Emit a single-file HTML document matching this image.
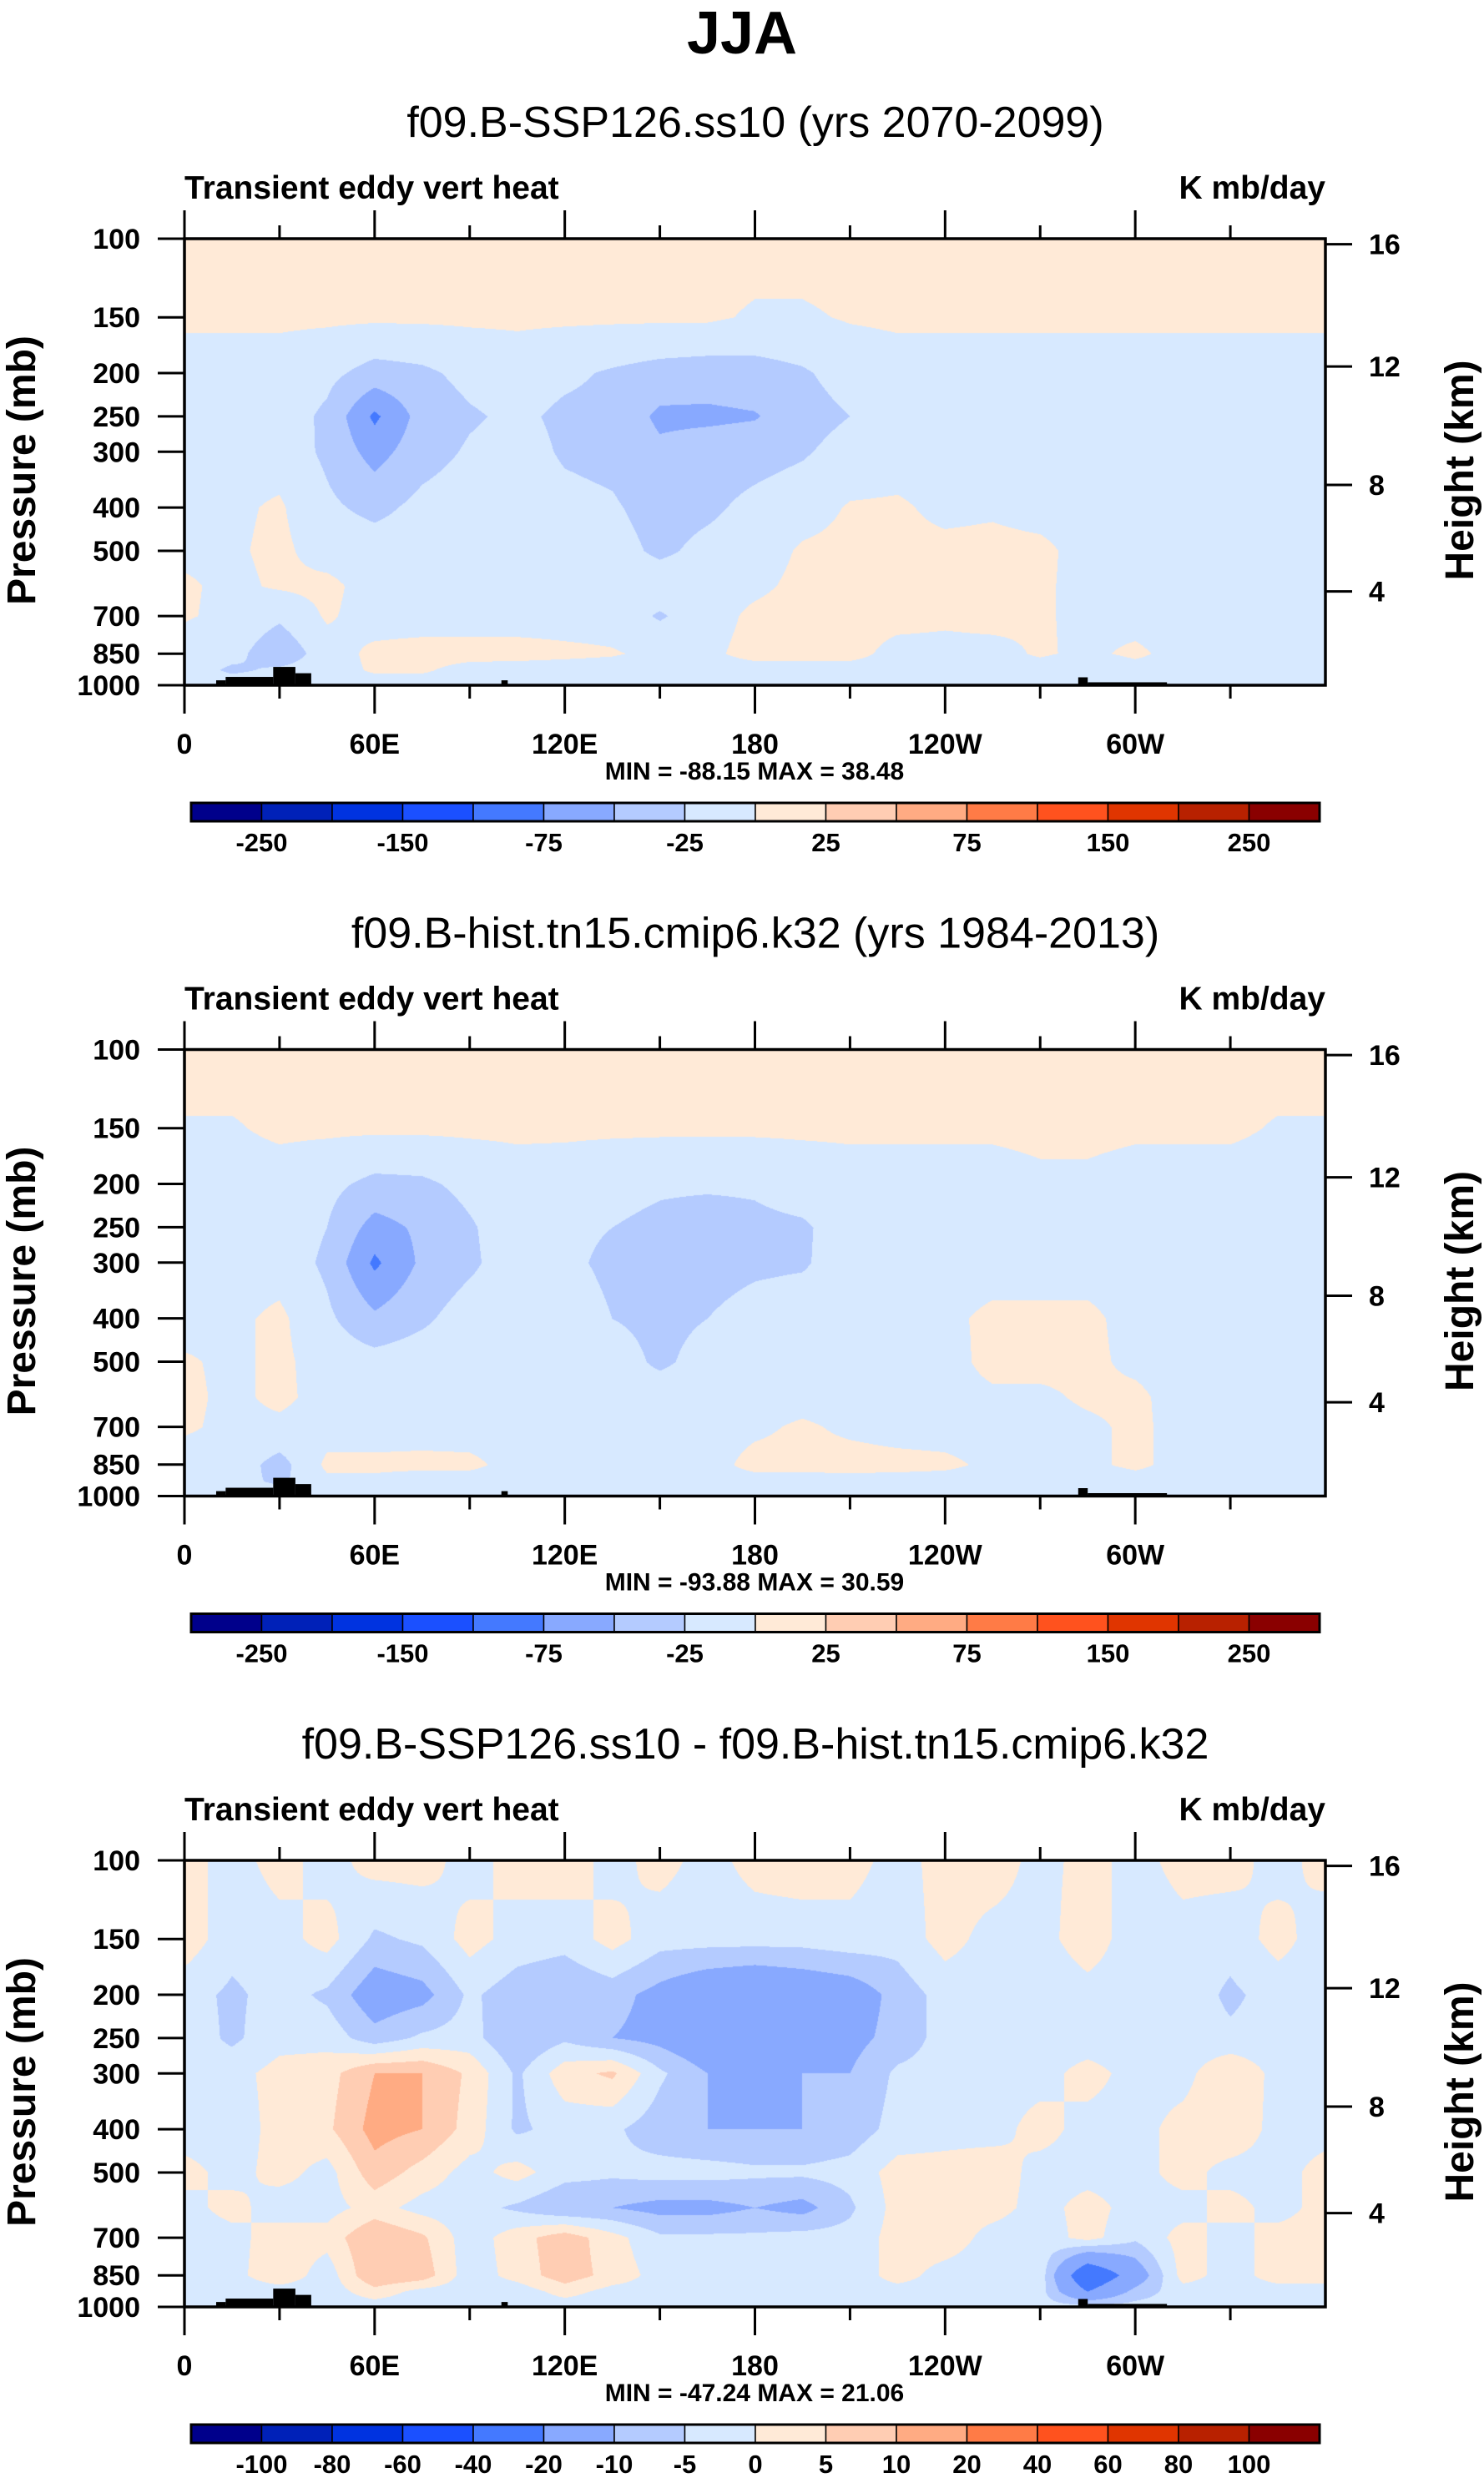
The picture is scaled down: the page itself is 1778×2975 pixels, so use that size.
<!DOCTYPE html>
<html><head><meta charset="utf-8">
<style>
html,body{margin:0;padding:0;background:#fff;}
#wrap{position:relative;width:1778px;height:2975px;overflow:hidden;}
canvas{position:absolute;}
svg{position:absolute;left:0;top:0;}
text{font-family:"Liberation Sans",sans-serif;}
</style></head>
<body>
<div id="wrap">
<canvas id="c0"></canvas>
<canvas id="c1"></canvas>
<canvas id="c2"></canvas>
<svg id="svg" width="1778" height="2975" xmlns="http://www.w3.org/2000/svg"></svg>
</div>
<script>
const lons = [0,15,30,45,60,75,90,105,120,135,150,165,180,195,210,225,240,255,270,285,300,315,330,345,360];
const levels = [100,150,200,250,300,400,500,600,700,850,925,1000];
const pTicks = [100,150,200,250,300,400,500,700,850,1000];
const zTicks = [4,8,12,16];
const lonTickVals = [0,60,120,180,240,300];
const lonTickLabels = ['0','60E','120E','180','120W','60W'];
const titles = ['f09.B-SSP126.ss10 (yrs 2070-2099)','f09.B-hist.tn15.cmip6.k32 (yrs 1984-2013)','f09.B-SSP126.ss10 - f09.B-hist.tn15.cmip6.k32'];
const minMax = ['MIN = -88.15  MAX =  38.48','MIN = -93.88  MAX =  30.59','MIN = -47.24  MAX =  21.06'];
const bounds12 = [-250,-200,-150,-100,-75,-50,-25,0,25,50,75,100,150,200,250];
const labels12 = ['-250','-150','-75','-25','25','75','150','250'];
const bounds3 = [-100,-80,-60,-40,-20,-10,-5,0,5,10,20,40,60,80,100];
const labels3 = ['-100','-80','-60','-40','-20','-10','-5','0','5','10','20','40','60','80','100'];
const colors = ['#00008b','#0021b8','#0033e0','#1b50ff','#4479ff','#88a9ff','#b4cbff','#d7e9ff','#ffead7','#ffcdb3','#ffab83','#ff7b46','#ff521e','#e03500','#b82100','#8a0000'];
const terrainLonStart = [10,13,28,35,100,282,285];
const terrainLonEnd = [13,28,35,40,102,285,310];
const terrainP = [975,958,910,940,975,960,985];

const field1 = [
[10,10,10,10,10,10,10,10,10,10,10,10,10,10,10,10,10,10,10,10,10,10,10,10,10],
[4,4,4,4,4,4,4,4,4,4,4,4,-3,-3,2,4,4,4,4,4,4,4,4,4,4],
[-10,-10,-10,-18,-35,-30,-18,-12,-20,-28,-35,-38,-35,-28,-15,-10,-10,-10,-10,-10,-10,-10,-10,-10,-10],
[-10,-10,-12,-30,-80,-40,-28,-20,-30,-32,-55,-55,-52,-35,-25,-12,-10,-10,-10,-10,-10,-10,-10,-10,-10],
[-10,-8,-10,-30,-60,-35,-22,-15,-28,-32,-45,-38,-35,-28,-15,-10,-10,-10,-10,-10,-10,-10,-10,-10,-10],
[-8,-4,3,-20,-32,-18,-12,-12,-18,-22,-35,-30,-18,-10,2,3,-5,-3,-8,-10,-10,-10,-10,-10,-10],
[-5,-3,5,-10,-12,-12,-10,-10,-10,-15,-30,-18,-12,3,6,5,5,6,5,-8,-10,-10,-10,-10,-10],
[3,-5,3,6,-10,-10,-10,-10,-10,-10,-10,-10,-5,6,8,8,6,8,4,-8,-10,-10,-10,-10,-10],
[2,-5,-20,3,-10,-10,-10,-10,-10,-10,-28,-10,5,10,8,8,5,8,3,-6,-10,-10,-10,-10,-10],
[-10,-15,-45,-10,5,8,8,8,5,2,-5,-5,8,8,8,-8,-8,-8,3,-5,5,-10,-10,-10,-10],
[-10,-30,-20,-10,3,3,-8,-10,-10,-10,-10,-10,-10,-10,-10,-10,-10,-10,-10,-20,-10,-10,-10,-10,-10],
[-10,-10,-10,-10,-10,-10,-10,-10,-10,-10,-10,-10,-10,-10,-10,-10,-10,-10,-10,-10,-10,-10,-10,-10,-10]];

const field2 = [
[10,10,10,10,10,10,10,10,10,10,10,10,10,10,10,10,10,10,10,10,10,10,10,10,10],
[-2,-2,4,4,4,4,4,4,4,4,4,4,4,4,4,4,4,4,6,6,4,4,4,-2,-2],
[-10,-10,-10,-18,-32,-30,-18,-10,-12,-18,-22,-22,-22,-15,-10,-10,-10,-10,-5,-5,-10,-10,-10,-10,-10],
[-10,-10,-10,-25,-60,-45,-28,-10,-20,-25,-30,-35,-30,-28,-15,-10,-10,-10,-10,-10,-10,-10,-10,-10,-10],
[-10,-10,-10,-30,-80,-45,-30,-10,-20,-30,-50,-35,-30,-28,-12,-10,-10,-10,-10,-10,-10,-10,-10,-10,-10],
[-10,-5,5,-20,-45,-30,-12,-10,-12,-25,-32,-25,-15,-10,-8,-8,-5,5,5,5,-8,-10,-10,-10,-10],
[3,-5,5,-10,-15,-10,-10,-10,-10,-12,-30,-15,-10,-10,-10,-10,-10,8,8,5,-5,-10,-10,-10,-10],
[5,-5,5,-8,-10,-10,-10,-10,-10,-10,-10,-10,-10,-10,-10,-10,-10,-5,-5,4,5,-10,-10,-10,-10],
[3,-5,-5,-10,-10,-8,-10,-10,-10,-10,-10,-10,-5,4,-5,-10,-10,-10,-10,-5,5,-8,-10,-10,-10],
[-10,-10,-35,5,5,5,5,-8,-8,-10,-10,-10,8,8,10,8,5,-5,-10,-5,5,-8,-10,-10,-10],
[-10,-15,-30,-5,-5,-10,-10,-10,-10,-10,-10,-10,-10,-10,-10,-10,-10,-10,-10,-15,-10,-10,-10,-10,-10],
[-10,-10,-10,-10,-10,-10,-10,-10,-10,-10,-10,-10,-10,-10,-10,-10,-10,-10,-10,-10,-10,-10,-10,-10,-10]];

const field3 = [
[2,-2,2,-2,2,2,-2,2,3,-2,2,-2,2,3,2,-2,2,3,-2,2,-2,2,2,-2,2],
[3,-3,-2,2,-6,-4,2,-2,-3,2,-3,-3,-3,-3,-2,-3,2,-2,-2,3,-3,-2,-3,2,-3],
[-3,-6,-3,-6,-14,-12,-4,-8,-10,-8,-12,-16,-18,-16,-14,-8,-3,-3,-4,-2,-3,-2,-6,-3,-3],
[-2,-6,-2,-2,-8,-4,-3,-10,-6,-10,-12,-16,-20,-14,-12,-8,-3,-3,-3,-3,-3,-3,-4,-3,-2],
[-3,-2,2,3,10,10,4,-6,3,6,-4,-10,-12,-10,-10,-4,-3,-2,-2,2,-2,-2,5,-2,-3],
[-3,-3,2,4,12,10,3,-6,-3,-4,-8,-10,-10,-10,-8,-3,-2,-2,2,-2,-2,2,4,-2,-2],
[2,-2,2,-2,8,3,-2,2,-3,-4,-3,-3,-4,-4,-3,2,2,3,-2,-2,-2,2,-2,-2,2],
[-2,2,-3,-2,2,-2,-3,-6,-10,-10,-12,-12,-10,-12,-6,2,2,2,-2,2,-2,-2,2,-2,2],
[-3,-2,3,2,10,6,-3,3,8,2,-4,-4,-4,-3,-3,2,3,-2,-3,2,-4,2,-2,2,2],
[-3,-2,4,-3,10,8,-3,2,8,3,-2,-2,-2,-2,-3,2,-2,-3,-2,-30,-15,2,-2,2,2],
[-3,-3,-3,-3,3,-2,-3,-3,2,-2,-2,-2,-2,-2,-2,-2,-2,-3,-3,-20,-8,-2,-2,-2,-2],
[-3,-3,-3,-3,-3,-3,-3,-3,-3,-3,-3,-3,-3,-3,-3,-3,-3,-3,-3,-3,-3,-3,-3,-3,-3]];

const fields = [field1, field2, field3];
const panelBounds = [bounds12, bounds12, bounds3];
const panelLabels = [labels12, labels12, labels3];

const X0 = 221, X1 = 1588, PH = 535, PANEL_DY = 971.5, TOP0 = 286;
const W = X1 - X0;
const NS = 'http://www.w3.org/2000/svg';
const svg = document.getElementById('svg');
function xOf(lon){ return X0 + lon / 360 * W; }
function yOf(top, p){ return top + PH * Math.log(p / 100) / Math.log(10); }
function zToP(z){ const m = z * 1000; return m <= 11000 ? 1013.25 * Math.pow(1 - 2.2558e-5 * m, 5.2559) : 226.32 * Math.exp(-(m - 11000) / 6341.6); }
function el(tag, attrs, parent){ const e = document.createElementNS(NS, tag); for (const k in attrs) e.setAttribute(k, attrs[k]); (parent || svg).appendChild(e); return e; }
function txt(s, attrs, parent){ const e = el('text', attrs, parent); e.textContent = s; return e; }
function hexRgb(h){ return [parseInt(h.substr(1,2),16), parseInt(h.substr(3,2),16), parseInt(h.substr(5,2),16)]; }
const rgb = colors.map(hexRgb);

const title = txt('JJA', {x: 889, y: 64, 'font-size': 72, 'font-weight': 'bold', 'text-anchor': 'middle'});



const lnLev = levels.map(p => Math.log(p));
function sample(field, lon, p){
  let i = Math.min(Math.floor(lon / 15), lons.length - 2);
  const fx = (lon - lons[i]) / 15;
  const lp = Math.log(p);
  let j = 0;
  while (j < levels.length - 2 && lp > lnLev[j + 1]) j++;
  let fy = (lp - lnLev[j]) / (lnLev[j + 1] - lnLev[j]);
  fy = Math.max(0, Math.min(1, fy));
  const a = field[j][i], b = field[j][i + 1], c = field[j + 1][i], d = field[j + 1][i + 1];
  return (a * (1 - fx) + b * fx) * (1 - fy) + (c * (1 - fx) + d * fx) * fy;
}

for (let k = 0; k < 3; k++){
  const top = TOP0 + k * PANEL_DY;
  const g = el('g', {});
  
  
  const cv = document.getElementById('c' + k);
  cv.width = W; cv.height = PH;
  cv.style.left = X0 + 'px'; cv.style.top = top + 'px';
  const ctx = cv.getContext('2d');
  const img = ctx.createImageData(W, PH);
  const bnd = panelBounds[k];
  for (let y = 0; y < PH; y++){
    const p = 100 * Math.pow(10, (y + 0.5) / PH);
    for (let x = 0; x < W; x++){
      const lon = (x + 0.5) / W * 360;
      const v = sample(fields[k], lon, p);
      let ci = 0;
      while (ci < bnd.length && v >= bnd[ci]) ci++;
      const c = rgb[ci];
      const o = (y * W + x) * 4;
      img.data[o] = c[0]; img.data[o + 1] = c[1]; img.data[o + 2] = c[2]; img.data[o + 3] = 255;
    }
  }
  ctx.putImageData(img, 0, 0);
  for (let t = 0; t < terrainP.length; t++){
    const yT = yOf(top, terrainP[t]);
    const r = el('rect', {x: xOf(terrainLonStart[t]), y: yT, width: xOf(terrainLonEnd[t]) - xOf(terrainLonStart[t]), height: top + PH - yT, fill: '#000'}, g);
    
    
  }
  const st = txt(titles[k], {x: 905, y: top - 122, 'font-size': 52, 'text-anchor': 'middle'}, g);
  
  
  const lt = txt('Transient eddy vert heat', {x: X0, y: top - 48, 'font-size': 39, 'font-weight': 'bold'}, g);
  
  
  const ut = txt('K mb/day', {x: X1, y: top - 48, 'font-size': 39, 'font-weight': 'bold', 'text-anchor': 'end'}, g);
  
  
  const fr = el('rect', {x: X0, y: top, width: W, height: PH, fill: 'none', stroke: '#000', 'stroke-width': 3.5}, g);
  
  
  for (let lon = 0; lon < 360; lon += 30){
    const major = lon % 60 === 0;
    const len = major ? 34 : 16;
    const x = xOf(lon);
    const t1 = el('line', {x1: x, x2: x, y1: top, y2: top - len, stroke: '#000', 'stroke-width': 3}, g);
    
    
    const t2 = el('line', {x1: x, x2: x, y1: top + PH, y2: top + PH + len, stroke: '#000', 'stroke-width': 3}, g);
    
    
  }
  lonTickVals.forEach((lon, i) => {
    const l = txt(lonTickLabels[i], {x: xOf(lon), y: top + PH + 82, 'font-size': 34, 'font-weight': 'bold', 'text-anchor': 'middle'}, g);
    
    
  });
  pTicks.forEach(p => {
    const y = yOf(top, p);
    const t = el('line', {x1: X0, x2: X0 - 32, y1: y, y2: y, stroke: '#000', 'stroke-width': 3}, g);
    
    
    const l = txt(String(p), {x: X0 - 53, y: y + 12, 'font-size': 34, 'font-weight': 'bold', 'text-anchor': 'end'}, g);
    
    
  });
  zTicks.forEach(z => {
    const y = yOf(top, zToP(z));
    const t = el('line', {x1: X1, x2: X1 + 32, y1: y, y2: y, stroke: '#000', 'stroke-width': 3}, g);
    
    
    const l = txt(String(z), {x: X1 + 52, y: y + 12, 'font-size': 34, 'font-weight': 'bold'}, g);
    
    
  });
  const cy = top + PH / 2;
  const ya = txt('Pressure (mb)', {x: 0, y: 0, 'font-size': 48, 'font-weight': 'bold', 'text-anchor': 'middle', transform: 'translate(42,' + (cy + 10) + ') rotate(-90)'}, g);
  
  
  const ya2 = txt('Height (km)', {x: 0, y: 0, 'font-size': 48, 'font-weight': 'bold', 'text-anchor': 'middle', transform: 'translate(1765,' + (cy + 10) + ') rotate(-90)'}, g);
  
  
  const mm = txt(minMax[k], {x: 904, y: top + PH + 113, 'font-size': 30, 'font-weight': 'bold', 'text-anchor': 'middle'}, g);
  
  
  const cbY = top + 676, cbH = 22, cbX0 = 229, cbX1 = 1581;
  const bw = (cbX1 - cbX0) / colors.length;
  colors.forEach((c, i) => {
    const r = el('rect', {x: cbX0 + i * bw, y: cbY, width: bw, height: cbH, fill: c, stroke: '#000', 'stroke-width': 1.5}, g);
    
    
  });
  const cbo = el('rect', {x: cbX0, y: cbY, width: cbX1 - cbX0, height: cbH, fill: 'none', stroke: '#000', 'stroke-width': 3}, g);
  
  
  const labs = panelLabels[k];
  labs.forEach((s, i) => {
    const bi = labs.length === 15 ? i + 1 : 2 * i + 1;
    const l = txt(s, {x: cbX0 + bi * bw, y: cbY + 58, 'font-size': 31, 'font-weight': 'bold', 'text-anchor': 'middle'}, g);
    
    
  });
}
</script>
</body></html>
